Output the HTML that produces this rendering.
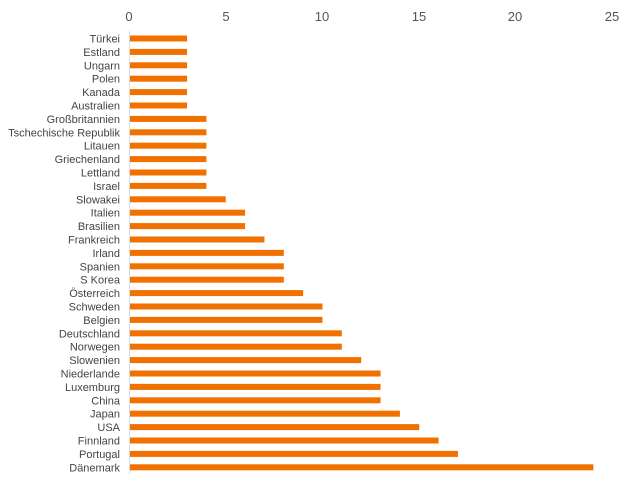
<!DOCTYPE html>
<html><head><meta charset="utf-8"><style>html,body{margin:0;padding:0;background:#fff}</style></head>
<body>
<svg width="640" height="488" xmlns="http://www.w3.org/2000/svg" font-family="Liberation Sans, sans-serif">
<line x1="129.5" y1="31" x2="129.5" y2="474" stroke="#ddd" stroke-width="1"/>
<g font-size="13" fill="#555" text-anchor="middle">
<text x="129" y="21">0</text><text x="226" y="21">5</text><text x="322" y="21">10</text><text x="419" y="21">15</text><text x="515" y="21">20</text><text x="612" y="21">25</text>
</g>
<g id="c" font-size="11" fill="#444" text-anchor="end"></g>
<g id="b" fill="#f07000"></g>
<script>
var d=[["Türkei",3],["Estland",3],["Ungarn",3],["Polen",3],["Kanada",3],["Australien",3],["Großbritannien",4],["Tschechische Republik",4],["Litauen",4],["Griechenland",4],["Lettland",4],["Israel",4],["Slowakei",5],["Italien",6],["Brasilien",6],["Frankreich",7],["Irland",8],["Spanien",8],["S Korea",8],["Österreich",9],["Schweden",10],["Belgien",10],["Deutschland",11],["Norwegen",11],["Slowenien",12],["Niederlande",13],["Luxemburg",13],["China",13],["Japan",14],["USA",15],["Finnland",16],["Portugal",17],["Dänemark",24]];
var ns="http://www.w3.org/2000/svg",c=document.getElementById("c"),b=document.getElementById("b");
d.forEach(function(r,i){var y=38.5+i*13.4;
var t=document.createElementNS(ns,"text");t.setAttribute("x",120);t.setAttribute("y",y+4);t.textContent=r[0];c.appendChild(t);
var e=document.createElementNS(ns,"rect");e.setAttribute("x",130);e.setAttribute("y",y-3);e.setAttribute("height",6);e.setAttribute("width",r[1]*19.35-1);b.appendChild(e);});
</script>
</svg>
</body></html>
